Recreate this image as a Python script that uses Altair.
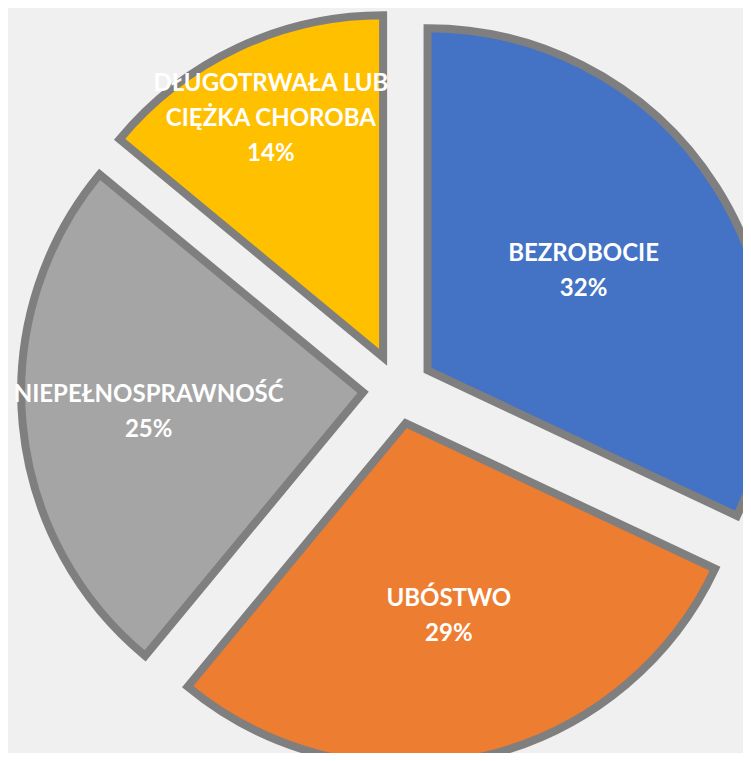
import altair as alt
import pandas as pd

categories = ["BEZROBOCIE", "UBÓSTWO", "NIEPEŁNOSPRAWNOŚĆ", "DŁUGOTRWAŁA LUB\nCIĘŻKA CHOROBA"]
values = [32, 29, 25, 14]
colors = ["#4472C4", "#ED7D31", "#A5A5A5", "#FFC000"]

df = pd.DataFrame({"cat": categories, "value": values, "order": list(range(len(values)))})

CX, CY, R, EXPLODE = 390, 381, 342, 35
LH = 35

base = (
    alt.Chart(df)
    .transform_window(cum="sum(value)", sort=[alt.SortField("order")], frame=[None, 0])
    .transform_joinaggregate(total="sum(value)")
    .transform_calculate(
        t0="2*PI*(datum.cum - datum.value)/datum.total",
        t1="2*PI*datum.cum/datum.total",
        share="datum.value/datum.total",
    )
    .transform_calculate(mid="(datum.t0 + datum.t1)/2")
    .transform_calculate(
        px=f"{CX} + {EXPLODE}*sin(datum.mid)",
        py=f"{CY} - {EXPLODE}*cos(datum.mid)",
        lr=f"{R}*(0.95 - 1.28*datum.share)",
        label="datum.cat + '\\n' + format(datum.share, '.0%')",
    )
    .transform_calculate(
        nl="length(split(datum.label, '\\n'))",
    )
    .transform_calculate(
        lx="datum.px + datum.lr*sin(datum.mid)",
        ly=f"datum.py - datum.lr*cos(datum.mid) - (datum.nl - 1)*{LH}/2",
    )
)

arcs = base.mark_arc(outerRadius=R, stroke="#7f7f7f", strokeWidth=8, strokeJoin="miter").encode(
    x=alt.X("px:Q", scale=None, axis=None),
    y=alt.Y("py:Q", scale=None, axis=None),
    theta=alt.Theta("t0:Q", scale=None, stack=None),
    theta2=alt.Theta2("t1:Q"),
    color=alt.Color("cat:N", scale=alt.Scale(domain=categories, range=colors), legend=None),
)

labels = base.mark_text(
    font="Lato", fontWeight="bold", fontSize=24, color="white",
    lineBreak="\n", lineHeight=LH, align="center", baseline="middle",
).encode(
    x=alt.X("lx:Q", scale=None, axis=None),
    y=alt.Y("ly:Q", scale=None, axis=None),
    text="label:N",
)

chart = (
    alt.layer(arcs, labels)
    .properties(width=735, height=745, autosize=alt.AutoSizeParams(type="none"), padding=0,
                background="#f0f0f0")
    .configure_view(stroke=None)
)

chart.save("out.html", embed_options={"renderer": "svg", "actions": False})
